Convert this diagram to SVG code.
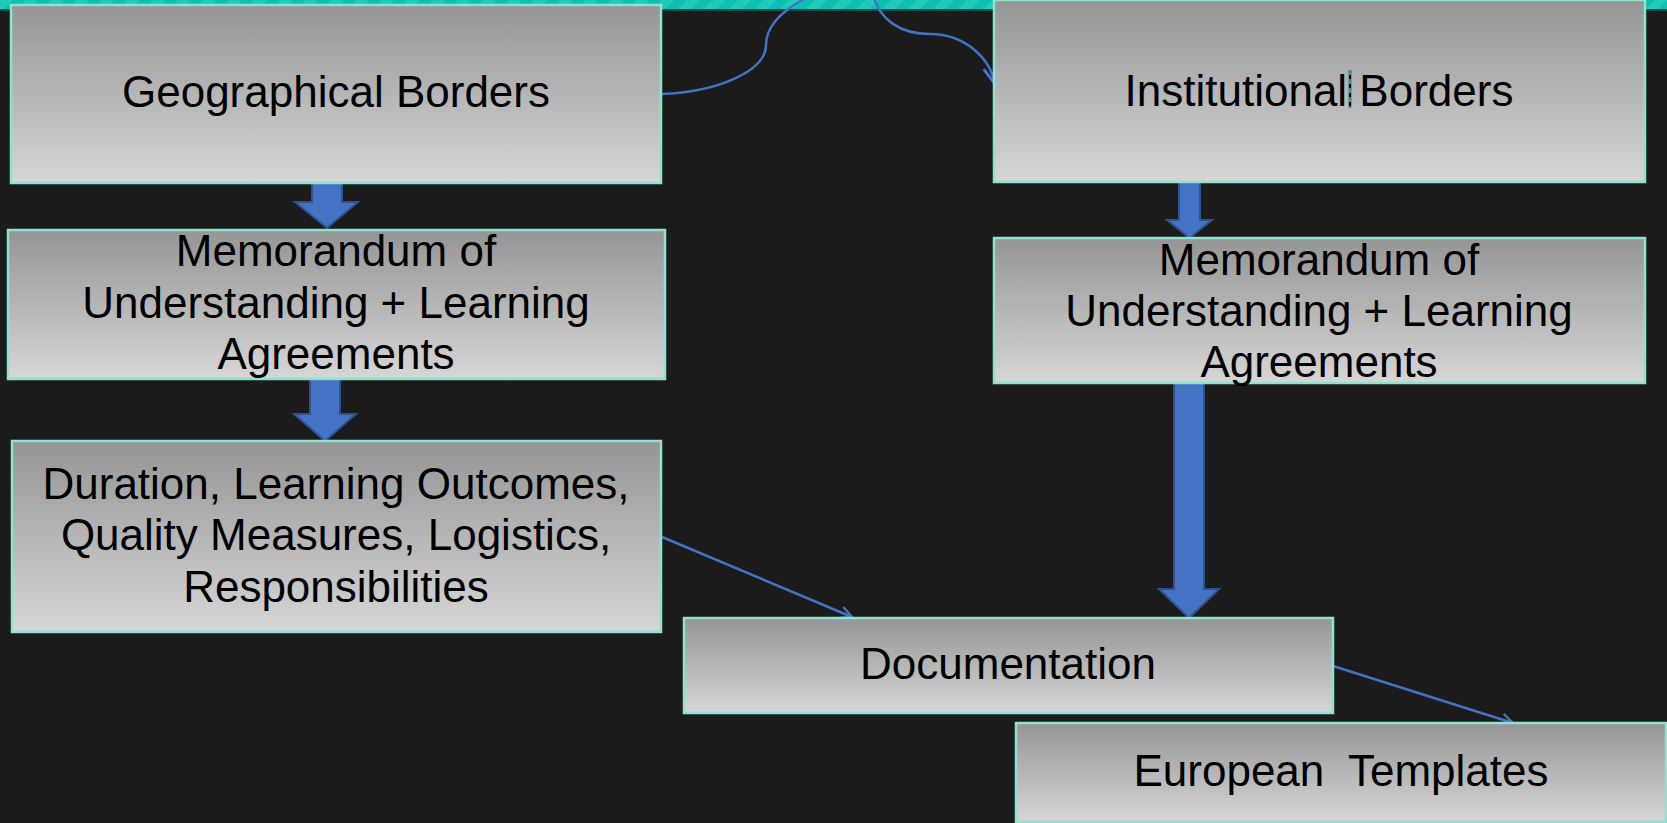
<svg xmlns="http://www.w3.org/2000/svg" width="1667" height="823" viewBox="0 0 1667 823">
<defs>
<linearGradient id="g" x1="0" y1="0" x2="0" y2="1">
<stop offset="0" stop-color="#959595"/>
<stop offset="1" stop-color="#d6d6d6"/>
</linearGradient>
<pattern id="stripes" width="18" height="18" patternUnits="userSpaceOnUse" patternTransform="rotate(45)">
<rect width="18" height="18" fill="#0cbfb1"/>
<rect width="9" height="18" fill="#22c9bd"/>
</pattern>
<marker id="open" viewBox="0 0 12 12" refX="11" refY="6" markerWidth="14" markerHeight="14" markerUnits="userSpaceOnUse" orient="auto">
<path d="M1,1 L11,6 L1,11" fill="none" stroke="#4472c4" stroke-width="2"/>
</marker>
<marker id="open2" viewBox="0 0 12 12" refX="11" refY="6" markerWidth="20" markerHeight="20" markerUnits="userSpaceOnUse" orient="auto">
<path d="M1,1 L11,6 L1,11" fill="none" stroke="#4472c4" stroke-width="1.8"/>
</marker>
</defs>
<style>
.box{fill:url(#g);stroke:#8ee3cf;stroke-width:2.5}
.t{font-family:"Liberation Sans",Arial,sans-serif;font-size:44px;fill:#000;text-anchor:middle}
.blk{fill:#4472c4;stroke:#2f528f;stroke-width:2}
.ln{fill:none;stroke:#4472c4;stroke-width:2.5}
</style>
<rect width="1667" height="823" fill="#1b1b1b"/>
<rect x="0" y="0" width="1667" height="9" fill="url(#stripes)"/>
<rect x="0" y="9" width="1667" height="2" fill="#0b4e4a"/>

<g id="connectors">
<path class="blk" d="M312,177 H342 V202 H358 L327,228 L295,202 H312 Z"/>
<path class="blk" d="M310,379 H340 V414 H356 L325,441 L294,414 H310 Z"/>
<path class="blk" d="M1179,182 H1200 V220 H1212 L1189.5,238 L1167,220 H1179 Z"/>
<path class="blk" d="M1174,383 H1204 V589 H1219 L1189,618 L1159,589 H1174 Z"/>
<path class="ln" stroke-width="1.6" d="M661,94 C720,92 766,70 766,45 C766,25 785,8 812,-5"/>
<path class="ln" stroke-width="3" d="M873,-5 C880,20 900,34 930,34 C965,34 990,58 995,84" marker-end="url(#open2)"/>
<path class="ln" d="M662,537 L852,617" marker-end="url(#open)"/>
<path class="ln" d="M1333,666 L1513,723" marker-end="url(#open)"/>
</g>

<g id="geo">
<rect class="box" x="11" y="5" width="650" height="178"/>
<text class="t" x="336" y="107">Geographical Borders</text>
</g>
<g id="mou-left">
<rect class="box" x="8" y="230" width="657" height="149"/>
<text class="t" x="336" y="266">Memorandum of</text>
<text class="t" x="336" y="318">Understanding + Learning</text>
<text class="t" x="336" y="369">Agreements</text>
</g>
<g id="duration">
<rect class="box" x="12" y="441" width="649" height="191"/>
<text class="t" x="336" y="499">Duration, Learning Outcomes,</text>
<text class="t" x="336" y="550">Quality Measures, Logistics,</text>
<text class="t" x="336" y="602">Responsibilities</text>
</g>
<g id="inst">
<rect class="box" x="994" y="0" width="651" height="182"/>
<text class="t" x="1319" y="106">Institutional Borders</text>
<line x1="1350" y1="70" x2="1350" y2="108" stroke="#111" stroke-width="2.5"/>
<line x1="1350" y1="70" x2="1350" y2="108" stroke="#3cc0c8" stroke-width="1.5" stroke-dasharray="5,4"/>
</g>
<g id="mou-right">
<rect class="box" x="994" y="238" width="651" height="145"/>
<text class="t" x="1319" y="275">Memorandum of</text>
<text class="t" x="1319" y="326">Understanding + Learning</text>
<text class="t" x="1319" y="377">Agreements</text>
</g>
<g id="doc">
<rect class="box" x="684" y="618" width="649" height="95"/>
<text class="t" x="1008" y="679">Documentation</text>
</g>
<g id="euro">
<rect class="box" x="1016" y="723" width="650" height="99"/>
<text class="t" x="1341" y="786" xml:space="preserve">European  Templates</text>
</g>
</svg>
